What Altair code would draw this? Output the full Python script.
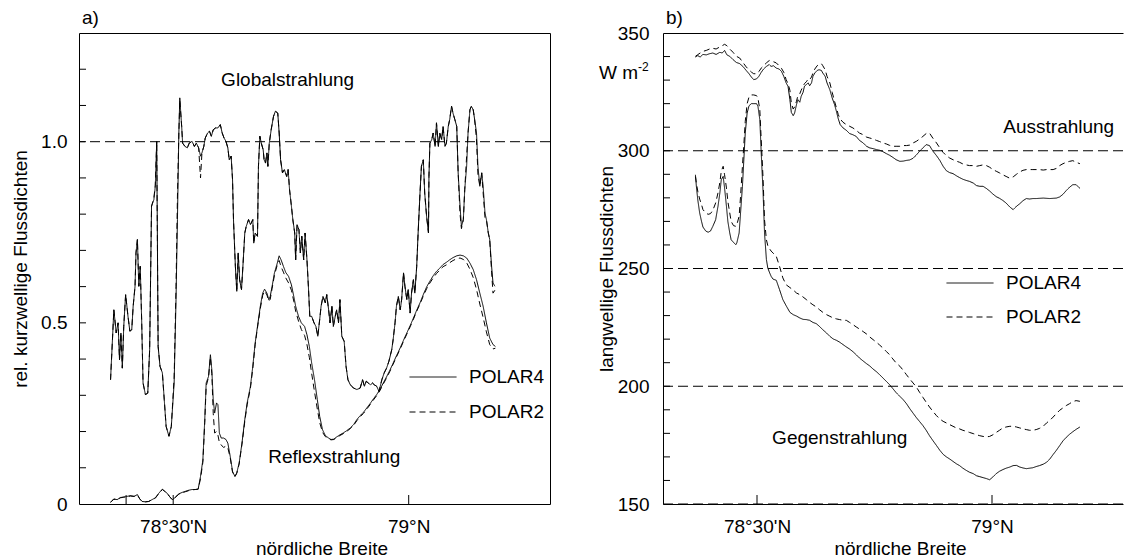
import altair as alt
import pandas as pd

FONT = "Liberation Sans"
FS = 19

# ---------------- panel a) : short-wave (relative) ----------------
G_LAT = [78.367, 78.374, 78.379, 78.383, 78.386, 78.389, 78.392, 78.395, 78.399, 78.404,
         78.408, 78.412, 78.415, 78.419, 78.421, 78.424, 78.427, 78.430, 78.433, 78.436,
         78.441, 78.446, 78.450, 78.454, 78.459, 78.462, 78.465, 78.468, 78.472, 78.477,
         78.481, 78.485, 78.491, 78.496, 78.502, 78.506, 78.509, 78.512, 78.514, 78.518,
         78.520, 78.525, 78.530, 78.534, 78.540, 78.545, 78.549, 78.554, 78.558, 78.561,
         78.565, 78.568, 78.573, 78.577, 78.581, 78.585, 78.590, 78.595, 78.600, 78.604,
         78.608, 78.612, 78.616, 78.619, 78.623, 78.626, 78.628, 78.632, 78.635, 78.638,
         78.641, 78.645, 78.648, 78.652, 78.655, 78.660, 78.664, 78.669, 78.671, 78.674,
         78.679, 78.681, 78.684, 78.687, 78.691, 78.693, 78.696, 78.699, 78.701, 78.704,
         78.708, 78.713, 78.717, 78.722, 78.725, 78.728, 78.732, 78.736, 78.741, 78.744,
         78.747, 78.751, 78.754, 78.758, 78.760, 78.763, 78.767, 78.770, 78.773, 78.777,
         78.780, 78.784, 78.787, 78.790, 78.794, 78.799, 78.803, 78.807, 78.811, 78.814,
         78.818, 78.823, 78.826, 78.830, 78.833, 78.837, 78.840, 78.844, 78.847, 78.851,
         78.854, 78.858, 78.863, 78.867, 78.871, 78.876, 78.883, 78.890, 78.897, 78.902,
         78.906, 78.910, 78.914, 78.919, 78.923, 78.927, 78.932, 78.937, 78.943, 78.948,
         78.953, 78.958, 78.964, 78.967, 78.971, 78.974, 78.978, 78.982, 78.985, 78.989,
         78.992, 78.996, 78.999, 79.003, 79.006, 79.010, 79.013, 79.017, 79.020, 79.024,
         79.027, 79.031, 79.034, 79.038, 79.042, 79.043, 79.045, 79.049, 79.052, 79.056,
         79.059, 79.063, 79.066, 79.070, 79.073, 79.077, 79.080, 79.084, 79.087, 79.091,
         79.094, 79.098, 79.102, 79.105, 79.109, 79.112, 79.116, 79.119, 79.123, 79.126,
         79.130, 79.133, 79.137, 79.140, 79.144, 79.147, 79.151, 79.155, 79.158, 79.162,
         79.165, 79.169, 79.172, 79.176, 79.179, 79.183]

GLOBAL_P4 = [0.343, 0.536, 0.472, 0.500, 0.398, 0.472, 0.375, 0.490, 0.578, 0.518,
             0.477, 0.481, 0.546, 0.601, 0.693, 0.730, 0.601, 0.656, 0.509, 0.334,
             0.302, 0.306, 0.426, 0.822, 0.840, 0.877, 1.001, 0.435, 0.380, 0.362,
             0.288, 0.214, 0.187, 0.214, 0.334, 0.564, 0.785, 1.024, 1.121, 1.042,
             0.996, 0.987, 0.983, 0.996, 1.001, 0.987, 0.996, 0.983, 0.960, 0.969,
             0.987, 1.010, 1.024, 1.029, 1.015, 1.033, 1.038, 1.038, 1.047, 1.024,
             1.010, 1.001, 0.983, 0.950, 0.960, 0.895, 0.785, 0.656, 0.587, 0.693,
             0.619, 0.592, 0.656, 0.748, 0.766, 0.785, 0.771, 0.785, 0.720, 0.748,
             0.739, 0.932, 1.015, 0.996, 0.978, 0.950, 0.941, 0.969, 0.932, 0.996,
             1.033, 1.070, 1.084, 1.079, 1.024, 0.950, 0.914, 0.923, 0.904, 0.923,
             0.868, 0.822, 0.785, 0.748, 0.674, 0.771, 0.757, 0.693, 0.739, 0.674,
             0.748, 0.674, 0.601, 0.518, 0.518, 0.500, 0.490, 0.463, 0.509, 0.546,
             0.573, 0.555, 0.578, 0.536, 0.500, 0.546, 0.490, 0.518, 0.536, 0.500,
             0.564, 0.463, 0.449, 0.380, 0.343, 0.329, 0.320, 0.316, 0.320, 0.343,
             0.325, 0.339, 0.334, 0.329, 0.334, 0.329, 0.325, 0.311, 0.343, 0.362,
             0.375, 0.394, 0.426, 0.454, 0.500, 0.546, 0.573, 0.536, 0.564, 0.638,
             0.601, 0.564, 0.592, 0.527, 0.582, 0.619, 0.582, 0.656, 0.748, 0.858,
             0.932, 0.950, 0.858, 0.794, 0.748, 0.904, 0.996, 1.006, 1.024, 0.987,
             1.052, 0.987, 1.024, 1.006, 1.042, 0.987, 0.996, 1.042, 1.061, 1.098,
             1.079, 1.061, 1.042, 0.914, 0.822, 0.766, 0.785, 0.868, 0.932, 1.024,
             1.088, 1.098, 1.088, 1.061, 1.024, 0.932, 0.877, 0.914, 0.877, 0.803,
             0.785, 0.748, 0.730, 0.656, 0.610, 0.601]

GLOBAL_P2 = [0.343, 0.536, 0.472, 0.500, 0.398, 0.472, 0.375, 0.490, 0.578, 0.518,
             0.477, 0.481, 0.546, 0.601, 0.693, 0.730, 0.601, 0.656, 0.509, 0.334,
             0.302, 0.306, 0.426, 0.822, 0.845, 0.880, 1.001, 0.435, 0.380, 0.362,
             0.288, 0.214, 0.187, 0.214, 0.350, 0.600, 0.850, 1.024, 1.115, 1.042,
             0.996, 0.987, 0.983, 0.996, 1.001, 0.987, 0.996, 0.983, 0.900, 0.969,
             0.987, 1.010, 1.024, 1.029, 1.015, 1.033, 1.038, 1.038, 1.047, 1.024,
             1.010, 1.001, 0.983, 0.950, 0.960, 0.895, 0.785, 0.656, 0.587, 0.693,
             0.619, 0.592, 0.656, 0.748, 0.766, 0.785, 0.771, 0.785, 0.720, 0.748,
             0.739, 0.932, 1.015, 0.996, 0.978, 0.950, 0.941, 0.969, 0.932, 0.996,
             1.033, 1.070, 1.084, 1.079, 1.024, 0.950, 0.914, 0.923, 0.904, 0.923,
             0.868, 0.822, 0.785, 0.748, 0.674, 0.771, 0.757, 0.693, 0.739, 0.674,
             0.748, 0.674, 0.601, 0.518, 0.518, 0.500, 0.490, 0.463, 0.509, 0.546,
             0.573, 0.555, 0.578, 0.536, 0.500, 0.546, 0.490, 0.518, 0.536, 0.500,
             0.564, 0.463, 0.449, 0.380, 0.343, 0.329, 0.320, 0.316, 0.320, 0.343,
             0.325, 0.339, 0.334, 0.329, 0.334, 0.329, 0.325, 0.311, 0.343, 0.362,
             0.375, 0.394, 0.426, 0.454, 0.500, 0.546, 0.573, 0.536, 0.564, 0.638,
             0.601, 0.564, 0.592, 0.527, 0.582, 0.619, 0.582, 0.656, 0.748, 0.858,
             0.932, 0.950, 0.858, 0.794, 0.748, 0.904, 0.996, 1.006, 1.024, 0.987,
             1.052, 0.987, 1.024, 1.006, 1.042, 0.987, 0.996, 1.042, 1.061, 1.098,
             1.079, 1.061, 1.042, 0.914, 0.800, 0.760, 0.785, 0.868, 0.960, 1.024,
             1.088, 1.098, 1.088, 1.061, 1.005, 0.910, 0.877, 0.914, 0.860, 0.790,
             0.785, 0.748, 0.730, 0.640, 0.582, 0.590]

R_LAT = [78.367, 78.374, 78.381, 78.388, 78.395, 78.402, 78.409, 78.417, 78.424, 78.429,
         78.434, 78.441, 78.448, 78.455, 78.462, 78.469, 78.477, 78.482, 78.487, 78.492,
         78.498, 78.501, 78.506, 78.512, 78.519, 78.526, 78.533, 78.540, 78.547, 78.553,
         78.558, 78.563, 78.567, 78.570, 78.575, 78.579, 78.582, 78.585, 78.588, 78.592,
         78.595, 78.598, 78.602, 78.607, 78.612, 78.616, 78.621, 78.626, 78.631, 78.635,
         78.640, 78.646, 78.652, 78.657, 78.664, 78.669, 78.674, 78.680, 78.685, 78.690,
         78.694, 78.699, 78.703, 78.706, 78.710, 78.715, 78.721, 78.725, 78.729, 78.734,
         78.739, 78.745, 78.751, 78.756, 78.760, 78.766, 78.772, 78.779, 78.784, 78.789,
         78.794, 78.800, 78.806, 78.811, 78.817, 78.823, 78.830, 78.835, 78.841, 78.847,
         78.854, 78.861, 78.868, 78.876, 78.883, 78.890, 78.897, 78.904, 78.911, 78.918,
         78.925, 78.932, 78.939, 78.946, 78.953, 78.960, 78.967, 78.974, 78.982, 78.989,
         78.996, 79.003, 79.010, 79.017, 79.024, 79.031, 79.038, 79.045, 79.052, 79.059,
         79.066, 79.073, 79.080, 79.087, 79.094, 79.102, 79.109, 79.116, 79.123, 79.130,
         79.137, 79.144, 79.151, 79.158, 79.165, 79.172, 79.179, 79.184]

REFLEX_P4 = [0.005, 0.014, 0.012, 0.018, 0.019, 0.021, 0.023, 0.021, 0.026, 0.014,
             0.007, 0.006, 0.007, 0.012, 0.017, 0.029, 0.041, 0.035, 0.030, 0.021,
             0.012, 0.014, 0.021, 0.028, 0.032, 0.035, 0.038, 0.040, 0.040, 0.041,
             0.076, 0.122, 0.233, 0.334, 0.352, 0.412, 0.371, 0.288, 0.251, 0.279,
             0.274, 0.196, 0.182, 0.182, 0.178, 0.168, 0.132, 0.090, 0.076, 0.086,
             0.113, 0.168, 0.233, 0.279, 0.325, 0.380, 0.444, 0.500, 0.546, 0.582,
             0.593, 0.582, 0.564, 0.573, 0.601, 0.638, 0.665, 0.685, 0.674, 0.656,
             0.639, 0.628, 0.605, 0.573, 0.546, 0.518, 0.500, 0.490, 0.467, 0.435,
             0.389, 0.343, 0.288, 0.242, 0.205, 0.189, 0.182, 0.178, 0.179, 0.185,
             0.191, 0.196, 0.202, 0.210, 0.219, 0.233, 0.244, 0.253, 0.265, 0.277,
             0.290, 0.302, 0.316, 0.334, 0.351, 0.369, 0.389, 0.409, 0.431, 0.452,
             0.472, 0.492, 0.513, 0.535, 0.555, 0.578, 0.599, 0.615, 0.630, 0.642,
             0.651, 0.661, 0.667, 0.674, 0.680, 0.685, 0.687, 0.685, 0.679, 0.665,
             0.647, 0.619, 0.582, 0.546, 0.500, 0.458, 0.440, 0.435]

REFLEX_P2 = [0.005, 0.013, 0.012, 0.017, 0.019, 0.020, 0.022, 0.021, 0.025, 0.014,
             0.007, 0.006, 0.007, 0.012, 0.016, 0.028, 0.040, 0.035, 0.030, 0.021,
             0.012, 0.014, 0.020, 0.027, 0.031, 0.034, 0.037, 0.039, 0.040, 0.041,
             0.070, 0.115, 0.225, 0.325, 0.350, 0.405, 0.360, 0.250, 0.196, 0.200,
             0.190, 0.170, 0.163, 0.156, 0.160, 0.155, 0.128, 0.088, 0.075, 0.085,
             0.110, 0.165, 0.228, 0.274, 0.320, 0.375, 0.440, 0.496, 0.540, 0.576,
             0.588, 0.577, 0.560, 0.565, 0.595, 0.632, 0.660, 0.672, 0.655, 0.640,
             0.624, 0.610, 0.590, 0.560, 0.532, 0.505, 0.482, 0.465, 0.440, 0.405,
             0.360, 0.310, 0.262, 0.225, 0.198, 0.186, 0.180, 0.177, 0.178, 0.183,
             0.189, 0.194, 0.200, 0.208, 0.217, 0.230, 0.241, 0.250, 0.262, 0.274,
             0.287, 0.299, 0.313, 0.331, 0.348, 0.366, 0.386, 0.406, 0.428, 0.449,
             0.469, 0.489, 0.510, 0.532, 0.552, 0.574, 0.594, 0.610, 0.624, 0.636,
             0.646, 0.655, 0.660, 0.666, 0.672, 0.677, 0.679, 0.675, 0.666, 0.648,
             0.625, 0.592, 0.552, 0.515, 0.475, 0.440, 0.428, 0.430]

# ---------------- panel b) : long-wave (W m-2) ----------------
LW_LAT_TAIL = [78.690, 78.697, 78.704, 78.711, 78.718, 78.726, 78.733, 78.740, 78.747, 78.754,
               78.761, 78.768, 78.775, 78.782, 78.789, 78.796, 78.804, 78.811, 78.818, 78.825,
               78.832, 78.839, 78.846, 78.853, 78.860, 78.867, 78.874, 78.882, 78.889, 78.896,
               78.903, 78.910, 78.917, 78.924, 78.931, 78.938, 78.945, 78.952, 78.960, 78.967,
               78.974, 78.981, 78.988, 78.995, 79.002, 79.009, 79.016, 79.023, 79.030, 79.038,
               79.045, 79.052, 79.059, 79.066, 79.073, 79.080, 79.087, 79.094, 79.101, 79.109,
               79.116, 79.123, 79.130, 79.137, 79.144, 79.151, 79.158, 79.165, 79.172, 79.179,
               79.187]

AUS_LAT_HEAD = [78.369, 78.374, 78.379, 78.385, 78.392, 78.399, 78.406, 78.413, 78.421, 78.426,
                78.431, 78.436, 78.442, 78.449, 78.456, 78.463, 78.470, 78.477, 78.483, 78.488,
                78.493, 78.499, 78.504, 78.509, 78.514, 78.520, 78.526, 78.530, 78.535, 78.541,
                78.547, 78.552, 78.557, 78.562, 78.566, 78.570, 78.573, 78.577, 78.580, 78.584,
                78.587, 78.591, 78.594, 78.598, 78.601, 78.605, 78.609, 78.612, 78.616, 78.619,
                78.623, 78.628, 78.632, 78.637, 78.640, 78.645, 78.649, 78.655, 78.660, 78.665,
                78.669, 78.673, 78.677, 78.683]

AUS_P4 = [339.8, 340.4, 339.8, 340.9, 340.7, 341.2, 341.5, 340.9, 341.8, 341.5,
          342.6, 340.7, 340.1, 338.7, 337.5, 337.0, 335.8, 334.1, 332.7, 331.3,
          330.2, 330.5, 331.6, 333.3, 334.7, 335.8, 336.6, 335.8, 336.1, 335.1,
          334.7, 333.7, 331.6, 328.8, 327.4, 321.7, 316.3, 314.9, 316.0, 319.6,
          321.7, 320.6, 323.1, 324.8, 327.4, 328.1, 328.8, 327.6, 328.8, 331.6,
          333.0, 334.1, 334.4, 334.1, 333.0, 331.6, 328.8, 325.9, 322.4, 319.6,
          316.7, 313.5, 311.1, 309.7,
          308.7, 307.3, 306.8, 306.1, 304.4, 303.3, 301.9, 301.2, 300.9, 300.5,
          300.2, 299.6, 298.8, 298.1, 297.2, 296.2, 295.5, 295.6, 295.9, 296.1,
          296.8, 298.2, 299.8, 301.2, 302.6, 302.2, 299.9, 297.9, 295.9, 293.4,
          291.5, 290.7, 290.3, 289.4, 288.6, 287.9, 287.4, 287.0, 286.3, 285.2,
          284.9, 284.9, 284.0, 282.9, 281.6, 280.5, 279.8, 278.9, 277.8, 276.1,
          275.0, 276.4, 277.5, 278.8, 279.7, 279.5, 279.7, 279.7, 279.8, 279.9,
          279.8, 279.7, 279.8, 279.9, 280.4, 281.5, 283.1, 284.5, 285.6, 285.6,
          284.0]

AUS_P2 = [340.1, 340.8, 341.5, 342.2, 342.6, 343.2, 343.5, 343.2, 344.1, 344.6,
          345.2, 344.6, 343.2, 341.8, 340.1, 339.4, 337.5, 335.6, 334.4, 333.4,
          332.7, 332.7, 333.6, 335.1, 336.1, 337.3, 338.3, 338.1, 337.8, 337.3,
          336.1, 335.0, 333.3, 330.2, 328.5, 325.7, 320.3, 317.7, 318.6, 321.0,
          323.4, 324.2, 325.7, 327.4, 328.5, 329.3, 330.5, 330.2, 331.3, 333.0,
          334.7, 336.1, 336.7, 337.0, 336.1, 334.4, 331.6, 328.8, 324.8, 321.0,
          318.2, 315.3, 313.5, 312.1,
          311.1, 310.4, 309.7, 308.7, 307.5, 306.8, 305.8, 305.4, 305.0, 304.4,
          303.9, 303.3, 302.9, 302.3, 301.9, 301.9, 301.9, 302.2, 302.2, 302.4,
          303.3, 304.0, 305.0, 306.1, 307.3, 307.5, 305.4, 303.3, 301.2, 299.3,
          297.9, 296.9, 296.2, 295.6, 295.1, 294.4, 294.0, 293.7, 293.7, 293.4,
          293.7, 294.0, 293.7, 293.0, 292.0, 291.3, 290.6, 289.8, 289.1, 288.3,
          288.9, 290.0, 291.0, 291.7, 292.0, 292.0, 292.0, 292.0, 292.0, 291.8,
          292.0, 292.0, 292.0, 292.5, 293.7, 294.5, 295.1, 295.5, 295.8, 295.1,
          294.5]

GEG_LAT_HEAD = [78.369, 78.371, 78.374, 78.378, 78.382, 78.385, 78.391, 78.396, 78.401, 78.406,
                78.412, 78.417, 78.421, 78.424, 78.428, 78.431, 78.435, 78.438, 78.442, 78.445,
                78.450, 78.455, 78.457, 78.462, 78.465, 78.469, 78.472, 78.475, 78.479, 78.483,
                78.488, 78.493, 78.499, 78.502, 78.506, 78.509, 78.513, 78.516, 78.520, 78.523,
                78.527, 78.530, 78.534, 78.541, 78.548, 78.555, 78.562, 78.570, 78.577, 78.584,
                78.591, 78.598, 78.605, 78.612, 78.619, 78.626, 78.633, 78.640, 78.648, 78.655,
                78.662, 78.669, 78.676, 78.683]

GEG_P4 = [289.8, 284.9, 279.2, 273.6, 270.0, 267.6, 265.9, 265.4, 265.9, 267.9,
          270.7, 276.4, 282.1, 287.7, 289.1, 284.2, 276.4, 270.0, 265.1, 262.2,
          261.1, 260.1, 260.8, 265.1, 273.6, 284.9, 296.2, 307.5, 316.0, 319.1,
          320.0, 320.0, 320.0, 318.9, 313.2, 299.0, 282.1, 265.1, 253.8, 250.2,
          248.1, 246.7, 245.5, 245.0, 241.0, 236.8, 234.2, 231.4, 230.4, 229.8,
          229.0, 228.4, 228.3, 228.0, 227.1, 226.6, 225.4, 224.0, 222.6, 221.2,
          220.1, 219.5, 218.7, 217.7,
          216.7, 215.8, 214.7, 213.4, 212.0, 210.7, 209.6, 208.6, 207.3, 206.2,
          204.9, 203.5, 202.1, 200.7, 199.0, 197.3, 195.7, 194.3, 192.6, 190.5,
          188.6, 186.7, 185.0, 183.3, 181.3, 179.0, 177.0, 174.8, 172.8, 171.1,
          170.0, 169.1, 168.1, 167.1, 166.3, 165.2, 164.3, 163.5, 162.9, 162.0,
          161.6, 161.2, 160.8, 160.3, 161.5, 162.9, 163.9, 164.6, 165.2, 165.7,
          166.3, 166.4, 165.7, 165.3, 165.0, 165.2, 165.4, 165.9, 166.3, 166.9,
          167.7, 169.1, 171.0, 172.8, 174.8, 176.8, 178.3, 179.6, 180.7, 181.7,
          182.7]

GEG_P2 = [289.1, 286.3, 282.8, 279.5, 277.1, 275.0, 273.6, 273.0, 273.3, 274.7,
          277.8, 282.1, 286.6, 291.3, 293.4, 289.8, 284.2, 278.5, 273.6, 270.0,
          268.2, 267.9, 268.6, 272.2, 280.6, 293.4, 302.6, 312.5, 320.0, 322.8,
          323.7, 323.7, 323.4, 322.4, 317.4, 304.7, 287.7, 270.7, 262.2, 259.7,
          258.3, 257.4, 256.6, 255.2, 250.9, 246.0, 243.1, 241.9, 240.9, 239.6,
          238.9, 237.9, 236.8, 235.6, 234.6, 233.7, 232.5, 231.4, 230.4, 229.7,
          229.0, 228.6, 228.3, 228.0,
          228.0, 227.1, 226.2, 225.2, 224.3, 223.2, 222.2, 220.9, 219.8, 218.7,
          217.5, 216.2, 214.8, 213.4, 211.6, 209.9, 208.5, 206.8, 204.9, 203.1,
          201.4, 199.7, 197.4, 195.3, 193.2, 191.2, 189.4, 187.5, 186.1, 185.1,
          184.4, 183.7, 183.0, 182.3, 181.9, 181.3, 180.9, 180.4, 179.9, 179.4,
          179.0, 178.7, 178.5, 178.7, 179.4, 180.4, 181.3, 182.3, 182.7, 183.0,
          183.0, 182.7, 182.3, 181.9, 181.6, 181.3, 181.3, 181.6, 182.1, 183.0,
          184.4, 185.5, 186.9, 188.4, 189.8, 190.8, 191.8, 192.6, 193.5, 193.9,
          193.6]

AUS_LAT = AUS_LAT_HEAD + LW_LAT_TAIL
GEG_LAT = GEG_LAT_HEAD + LW_LAT_TAIL

assert len(G_LAT) == len(GLOBAL_P4) == len(GLOBAL_P2)
assert len(R_LAT) == len(REFLEX_P4) == len(REFLEX_P2)
assert len(AUS_LAT) == len(AUS_P4) == len(AUS_P2)
assert len(GEG_LAT) == len(GEG_P4) == len(GEG_P2)

SERIES = ["POLAR4", "POLAR2"]

# annotations / axes
A_TEXT = ["Globalstrahlung", "Reflexstrahlung"]
A_LAT = [78.743, 78.842]
A_VAL = [1.171, 0.130]
B_TEXT = ["Ausstrahlung", "Gegenstrahlung"]
B_LAT = [79.142, 78.676]
B_VAL = [310.0, 178.0]

A_YTICKS = [0.1, 0.2, 0.3, 0.4, 0.5, 0.6, 0.7, 0.8, 0.9, 1.0, 1.1, 1.2]
B_YTICKS = [160, 170, 180, 190, 200, 210, 220, 230, 240, 250, 260, 270, 280, 290,
            300, 310, 320, 330, 340]
A_XTICKS = [78.4, 78.5, 79.0]
B_XTICKS = [78.5, 79.0]
A_REF = [1.0]
B_REF = [150, 200, 250, 300]
A_YLABELS = [0, 0.5, 1.0]
B_YLABELS = [150, 200, 250, 300, 350]
X_LABELS = [78.5, 79.0]


def long_df(lat, p4, p2, grp):
    rows = []
    for la, v in zip(lat, p4):
        rows.append({"lat": la, "val": v, "serie": "POLAR4", "grp": grp})
    for la, v in zip(lat, p2):
        rows.append({"lat": la, "val": v, "serie": "POLAR2", "grp": grp})
    return rows


df_a = pd.DataFrame(long_df(G_LAT, GLOBAL_P4, GLOBAL_P2, "global") +
                    long_df(R_LAT, REFLEX_P4, REFLEX_P2, "reflex"))
df_b = pd.DataFrame(long_df(AUS_LAT, AUS_P4, AUS_P2, "aus") +
                    long_df(GEG_LAT, GEG_P4, GEG_P2, "geg"))

H = 471
WA = 471
WB = 460

XLAB = 'datum.value < 78.75 ? "78°30\'N" : "79°N"'

common_axis = dict(labelFont=FONT, titleFont=FONT, labelFontSize=FS, titleFontSize=FS,
                   labelColor="black", titleColor="black", titleFontWeight="normal",
                   ticks=False, tickSize=0, grid=False)


def xaxis(domain, w):
    return alt.Axis(values=X_LABELS, labelExpr=XLAB, title="nördliche Breite",
                    domain=domain, domainColor="black", domainWidth=1,
                    labelPadding=13, titleY=35, titleX=w / 2 + 7, titleBaseline="top",
                    **common_axis)


def dash_scale():
    return alt.Scale(domain=SERIES, range=[[1, 0], [6, 4]])


def legend(x, y, rowpad):
    return alt.Legend(title=None, orient="none", legendX=x, legendY=y,
                      symbolType="stroke", symbolSize=2209, symbolStrokeWidth=1,
                      symbolStrokeColor="black", clipHeight=18, rowPadding=rowpad,
                      labelFont=FONT, labelFontSize=FS, labelOffset=12,
                      labelColor="black", padding=0)


def panel(df, xs, ys, xax, xax_other, yax, leg, yticks, xticks, refs,
          ann_lat, ann_val, ann_text, label):
    # xax: axis for the data layer; xax_other: axis used by the tick layer
    lines = alt.Chart(df).mark_line(color="black", strokeWidth=1).encode(
        x=alt.X("lat:Q", scale=xs, axis=xax, title="nördliche Breite"),
        y=alt.Y("val:Q", scale=ys, axis=yax),
        strokeDash=alt.StrokeDash("serie:N", scale=dash_scale(), sort=SERIES, legend=leg),
        detail="grp:N",
    )
    ref = alt.Chart(pd.DataFrame({"val": refs})).mark_rule(
        color="black", strokeWidth=1, strokeDash=[10, 5]).encode(
        y=alt.Y("val:Q", scale=ys, axis=yax))
    yt = alt.Chart(pd.DataFrame({"val": yticks})).mark_rule(color="black", strokeWidth=1).encode(
        y=alt.Y("val:Q", scale=ys, axis=yax), x=alt.value(0), x2=alt.value(7))
    xt = alt.Chart(pd.DataFrame({"lat": xticks})).mark_rule(color="black", strokeWidth=1).encode(
        x=alt.X("lat:Q", scale=xs, axis=xax_other), y=alt.value(H), y2=alt.value(H - 9))
    ann = alt.Chart(pd.DataFrame({"lat": ann_lat, "val": ann_val, "t": ann_text})).mark_text(
        font=FONT, fontSize=FS, color="black", align="center", baseline="middle").encode(
        x=alt.X("lat:Q", scale=xs, axis=xax_other), y=alt.Y("val:Q", scale=ys, axis=yax),
        text="t:N")
    lab = alt.Chart(pd.DataFrame({"t": [label]})).mark_text(
        font=FONT, fontSize=FS, color="black", align="left", baseline="middle").encode(
        text="t:N", x=alt.value(3), y=alt.value(-15))
    return [lines, ref, yt, xt, ann, lab]


xs_a = alt.Scale(domain=[78.3, 79.3], nice=False, zero=False)
ys_a = alt.Scale(domain=[0, 1.3], nice=False, zero=False)
xs_b = alt.Scale(domain=[78.3, 78.3 + WB / 470.0], nice=False, zero=False)
ys_b = alt.Scale(domain=[150, 350], nice=False, zero=False)

yaxis_a = alt.Axis(values=A_YLABELS,
                   labelExpr="datum.value == 0 ? '0' : format(datum.value, '.1f')",
                   title="rel. kurzwellige Flussdichten", domain=False, labelPadding=12,
                   titleX=-59, titleBaseline="middle", **common_axis)
yaxis_b = alt.Axis(values=B_YLABELS, format="d", title="langwellige Flussdichten",
                   domain=True, domainColor="black", domainWidth=1, labelPadding=14,
                   titleX=-57, titleBaseline="middle", **common_axis)

# panel a: one shared x axis (same definition in every layer)
xa = xaxis(False, WA)
layers_a = panel(df_a, xs_a, ys_a, xa, xa, yaxis_a, legend(330, 335, 16),
                 A_YTICKS, A_XTICKS, A_REF, A_LAT, A_VAL, A_TEXT, "a)")
left = alt.layer(*layers_a).properties(width=WA, height=H)

# panel b: independent x axes -> bottom axis with labels, top axis as frame line
top_axis = alt.Axis(orient="top", labels=False, ticks=False, domain=True,
                    domainColor="black", domainWidth=1, title=None, grid=False)
layers_b = panel(df_b, xs_b, ys_b, xaxis(True, WB), top_axis, yaxis_b, legend(283, 241, 15),
                 B_YTICKS, B_XTICKS, B_REF, B_LAT, B_VAL, B_TEXT, "b)")
# the annotation layer should not add another top axis: rebuild it without axis
layers_b[4] = alt.Chart(pd.DataFrame({"lat": B_LAT, "val": B_VAL, "t": B_TEXT})).mark_text(
    font=FONT, fontSize=FS, color="black", align="center", baseline="middle").encode(
    x=alt.X("lat:Q", scale=xs_b, axis=None), y=alt.Y("val:Q", scale=ys_b, axis=yaxis_b),
    text="t:N")
unit_main = alt.Chart(pd.DataFrame({"t": ["W m"]})).mark_text(
    font=FONT, fontSize=FS, color="black", align="left", baseline="middle").encode(
    text="t:N", x=alt.value(-64), y=alt.value(40))
unit_sup = alt.Chart(pd.DataFrame({"t": ["-2"]})).mark_text(
    font=FONT, fontSize=12, color="black", align="left", baseline="middle").encode(
    text="t:N", x=alt.value(-25), y=alt.value(34))
right = alt.layer(*layers_b, unit_main, unit_sup).resolve_axis(x="independent").properties(
    width=WB, height=H, view=alt.ViewBackground(stroke="transparent"))

chart = alt.hconcat(left, right, spacing=113, bounds="flush").resolve_scale(
    x="independent", y="independent", strokeDash="independent").resolve_legend(
    strokeDash="independent").properties(
    padding={"left": 10, "top": 8, "right": 0, "bottom": 0}).configure(
    font=FONT).configure_view(stroke="black", strokeWidth=1)

chart.save("out.html", embed_options={"renderer": "svg", "actions": False})
